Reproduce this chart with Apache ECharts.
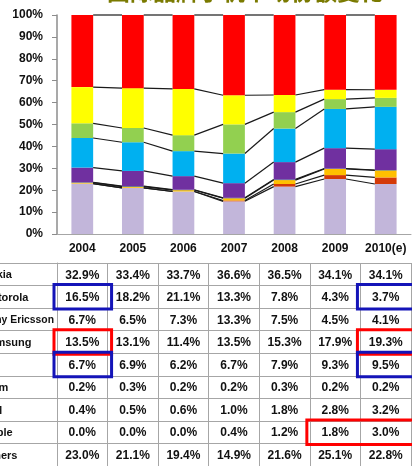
<!DOCTYPE html>
<html>
<head>
<meta charset="utf-8">
<script src="https://cdn.jsdelivr.net/npm/echarts@6/dist/echarts.min.js"></script>
<style>
  html, body { margin: 0; padding: 0; background: #fff; }
  #main { width: 412px; height: 466px; }
</style>
</head>
<body>
<div id="main"></div>
<script>
// 年份
var years = ['2004', '2005', '2006', '2007', '2008', '2009', '2010(e)'];
// 表格行 (从上到下)
var brands = ['Nokia', 'Motorola', 'Sony Ericsson', 'Samsung', 'LG', 'Palm', 'RIM', 'Apple', 'Others'];

var nokia        = [32.9, 33.4, 33.7, 36.6, 36.5, 34.1, 34.1];
var motorola     = [16.5, 18.2, 21.1, 13.3, 7.8, 4.3, 3.7];
var sonyEricsson = [6.7, 6.5, 7.3, 13.3, 7.5, 4.5, 4.1];
var samsung      = [13.5, 13.1, 11.4, 13.5, 15.3, 17.9, 19.3];
var lg           = [6.7, 6.9, 6.2, 6.7, 7.9, 9.3, 9.5];
var palm         = [0.2, 0.3, 0.2, 0.2, 0.3, 0.2, 0.2];
var rim          = [0.4, 0.5, 0.6, 1.0, 1.8, 2.8, 3.2];
var apple        = [0.0, 0.0, 0.0, 0.4, 1.2, 1.8, 3.0];
var others       = [23.0, 21.1, 19.4, 14.9, 21.6, 25.1, 22.8];

// 表格中圈出的单元格: [起始年份, 结束年份, 行, 颜色]
var highlights = [
    ['2004', '2004', 'Motorola', 'blue'],
    ['2004', '2004', 'Samsung', 'red'],
    ['2004', '2004', 'LG', 'blue'],
    ['2010(e)', '2010(e)', 'Motorola', 'blue'],
    ['2010(e)', '2010(e)', 'Samsung', 'red'],
    ['2010(e)', '2010(e)', 'LG', 'blue'],
    ['2009', '2010(e)', 'Apple', 'red']
];

var rows = [nokia, motorola, sonyEricsson, samsung, lg, palm, rim, apple, others];
var colors = ['#FF0000', '#FFFF00', '#92D050', '#00B0F0', '#7030A0', '#1F497D', '#FFC000', '#D43A08', '#C2B6DA'];
var boxColors = { blue: '#1414B8', red: '#FF0000' };

// 100% 堆积: 从下往上 Others ... Nokia
var stackOrder = [8, 7, 6, 5, 4, 3, 2, 1, 0];
var totals = years.map(function (y, i) {
    return rows.reduce(function (s, r) { return s + r[i]; }, 0);
});
var norm = rows.map(function (r) {
    return r.map(function (v, i) { return v / totals[i] * 100; });
});

var BAR = 0.43;
var FONT = 'Liberation Sans, Arial, sans-serif';
var GRAY = '#A6A6A6';
var LABEL_FONT = 'bold 11px ' + FONT;
var LABEL_W = 72;

// 量一下文字宽度, 太长的行标题横向压缩 (像 Excel 单元格那样)
var measureCtx = document.createElement('canvas').getContext('2d');
measureCtx.font = LABEL_FONT;

var series = [];
stackOrder.forEach(function (k) {
    series.push({
        name: brands[k],
        type: 'bar',
        stack: 'total',
        barWidth: (BAR * 100) + '%',
        itemStyle: { color: colors[k] },
        data: norm[k],
        xAxisIndex: 0,
        yAxisIndex: 0
    });
});

// 系列线
series.push({
    type: 'custom',
    xAxisIndex: 0,
    yAxisIndex: 0,
    z: 5,
    encode: { x: 0, y: 1 },
    data: years.slice(0, -1).map(function (y, i) { return [i, 0]; }),
    renderItem: function (params, api) {
        var i = api.value(0);
        var hw = api.size([1, 0])[0] * BAR / 2;
        var a = 0, b = 0, children = [];
        stackOrder.forEach(function (k) {
            a += norm[k][i];
            b += norm[k][i + 1];
            var p1 = api.coord([i, a]);
            var p2 = api.coord([i + 1, b]);
            children.push({
                type: 'line',
                shape: { x1: p1[0] + hw, y1: p1[1], x2: p2[0] - hw, y2: p2[1] },
                style: { stroke: '#1a1a1a', lineWidth: 1.2 }
            });
        });
        return { type: 'group', children: children };
    }
});

// 表格数值
var cells = [];
rows.forEach(function (r, ri) {
    r.forEach(function (v, ci) { cells.push([ci, ri, v]); });
});
series.push({
    type: 'custom',
    xAxisIndex: 1,
    yAxisIndex: 1,
    encode: { x: 0, y: 1 },
    data: cells,
    renderItem: function (params, api) {
        var p = api.coord([api.value(0), api.value(1)]);
        return {
            type: 'text',
            x: p[0], y: p[1] + 1,
            style: {
                text: api.value(2).toFixed(1) + '%',
                align: 'center', verticalAlign: 'middle',
                font: 'bold 12px ' + FONT, fill: '#111'
            }
        };
    }
});

// 行标题 (左侧被裁切)
series.push({
    type: 'custom',
    xAxisIndex: 1,
    yAxisIndex: 1,
    encode: { x: 0, y: 1 },
    data: brands.map(function (b, ri) { return [0, ri]; }),
    renderItem: function (params, api) {
        var p = api.coord([0, api.value(1)]);
        var cw = api.size([1, 0])[0];
        var name = brands[params.dataIndex];
        var w = measureCtx.measureText(name).width;
        return {
            type: 'text',
            x: p[0] - cw / 2 - 75, y: p[1] + 1,
            scaleX: Math.min(1, LABEL_W / w),
            style: {
                text: name,
                align: 'left', verticalAlign: 'middle',
                font: LABEL_FONT, fill: '#111'
            }
        };
    }
});

// 彩色框
series.push({
    type: 'custom',
    xAxisIndex: 1,
    yAxisIndex: 1,
    z: 10,
    encode: { x: 0, y: 2 },
    data: highlights.map(function (h) {
        return [years.indexOf(h[0]), years.indexOf(h[1]), brands.indexOf(h[2]), h[3]];
    }),
    renderItem: function (params, api) {
        var c0 = api.value(0), c1 = api.value(1), r = api.value(2);
        var p0 = api.coord([c0, r]);
        var p1 = api.coord([c1, r]);
        var sz = api.size([1, 1]);
        var color = boxColors[highlights[params.dataIndex][3]];
        return {
            type: 'rect',
            shape: {
                x: p0[0] - sz[0] / 2 - 3,
                y: p0[1] - sz[1] / 2 - 1,
                width: p1[0] - p0[0] + sz[0] + 7,
                height: sz[1] + 2
            },
            style: { fill: null, stroke: color, lineWidth: 3 }
        };
    }
});

var myChart = echarts.init(document.getElementById('main'));
var option = {
    animation: false,
    title: {
        text: '国际品牌手机市场份额变化',
        left: 102,
        top: -25,
        textStyle: { color: '#7A7A00', fontSize: 23, fontWeight: 'bold', fontFamily: 'Noto Sans CJK SC' }
    },
    grid: [
        { left: 57, right: 1, top: 15, height: 219 },
        { left: 57, right: 1, top: 263, height: 207 }
    ],
    xAxis: [
        {
            type: 'category', gridIndex: 0, data: years,
            axisLine: { lineStyle: { color: GRAY } },
            axisTick: { show: false },
            axisLabel: { show: false }
        },
        {
            type: 'category', gridIndex: 1, data: years, position: 'top',
            axisLine: { lineStyle: { color: GRAY } },
            axisTick: { length: 29, interval: 0, lineStyle: { color: GRAY } },
            axisLabel: { interval: 0, margin: 8, fontSize: 12, fontWeight: 'bold', color: '#111', fontFamily: FONT },
            splitLine: { show: true, interval: 0, lineStyle: { color: GRAY } }
        }
    ],
    yAxis: [
        {
            type: 'value', gridIndex: 0, min: 0, max: 100, interval: 10,
            axisLine: { show: true, lineStyle: { color: '#8C8C8C', width: 1.5 } },
            axisTick: { show: true, length: 5, lineStyle: { color: '#8C8C8C' } },
            splitLine: { show: false },
            axisLabel: { formatter: '{value}%', margin: 14, fontSize: 12, fontWeight: 'bold', color: '#111', fontFamily: FONT }
        },
        {
            type: 'category', gridIndex: 1, data: brands, inverse: true,
            axisLine: { show: true, lineStyle: { color: GRAY } },
            axisTick: { show: true, length: 60, interval: 0, lineStyle: { color: GRAY } },
            axisLabel: { show: false },
            splitLine: { show: true, interval: 0, lineStyle: { color: GRAY } }
        }
    ],
    series: series
};
myChart.setOption(option);
</script>
</body>
</html>
